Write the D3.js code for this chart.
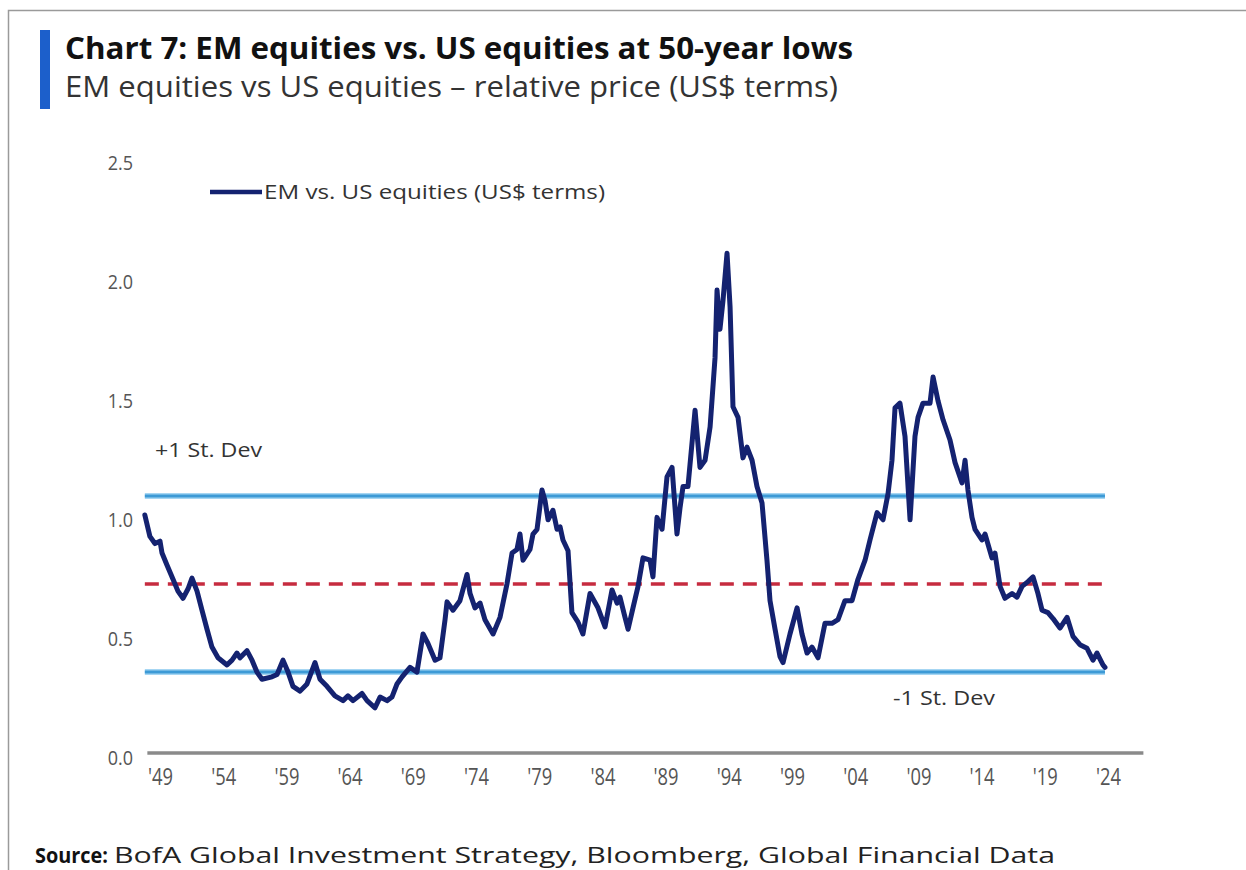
<!DOCTYPE html>
<html>
<head>
<meta charset="utf-8">
<script src="https://cdn.jsdelivr.net/npm/d3@7"></script>
<style>
  html, body { margin: 0; padding: 0; background: #fff; }
  svg { display: block; }
</style>
</head>
<body>
<svg id="chart" width="1246" height="870"></svg>
<script>
// EM vs. US equities relative price (US$ terms), decimal years
const years = [
  1947.8, 1948.2, 1948.6, 1949.0, 1949.16, 1949.55, 1950.03, 1950.42, 1950.82, 1951.22,
  1951.53, 1951.93, 1952.32, 1952.72, 1953.11, 1953.59, 1954.3, 1954.7, 1955.09, 1955.33,
  1955.88, 1956.28, 1956.67, 1957.07, 1957.86, 1958.26, 1958.73, 1959.13, 1959.52, 1960.08,
  1960.63, 1961.26, 1961.66, 1962.21, 1962.84, 1963.48, 1963.87, 1964.27, 1964.98, 1965.38,
  1966.01, 1966.41, 1966.96, 1967.35, 1967.75, 1968.15, 1968.78, 1969.33, 1969.81, 1970.2,
  1970.76, 1971.15, 1971.55, 1971.71, 1972.18, 1972.73, 1973.29, 1973.53, 1973.92, 1974.32,
  1974.71, 1975.35, 1975.9, 1976.45, 1976.85, 1977.24, 1977.48, 1977.72, 1978.27, 1978.51,
  1978.83, 1979.22, 1979.46, 1979.7, 1980.09, 1980.41, 1980.65, 1980.88, 1981.28, 1981.59,
  1982.07, 1982.46, 1983.02, 1983.65, 1984.21, 1984.76, 1985.16, 1985.39, 1985.79, 1986.03,
  1986.42, 1986.82, 1987.21, 1987.77, 1988.0, 1988.32, 1988.72, 1989.11, 1989.51, 1989.9,
  1990.14, 1990.38, 1990.77, 1991.33, 1991.72, 1992.12, 1992.52, 1992.91, 1993.07, 1993.3,
  1993.54, 1993.86, 1994.1, 1994.33, 1994.73, 1995.12, 1995.44, 1995.84, 1996.23, 1996.63,
  1997.02, 1997.26, 1997.66, 1998.05, 1998.29, 1998.84, 1999.4, 1999.79, 2000.19, 2000.58,
  2001.06, 2001.61, 2002.16, 2002.64, 2003.19, 2003.75, 2004.22, 2004.78, 2005.17, 2005.73,
  2006.2, 2006.6, 2006.91, 2007.15, 2007.54, 2007.94, 2008.34, 2008.73, 2008.97, 2009.36,
  2009.92, 2010.16, 2010.55, 2010.95, 2011.5, 2011.9, 2012.45, 2012.69, 2012.92, 2013.24,
  2013.48, 2014.03, 2014.27, 2014.82, 2015.06, 2015.46, 2015.85, 2016.41, 2016.8, 2017.2,
  2017.67, 2018.07, 2018.46, 2018.78, 2019.25, 2019.65, 2020.2, 2020.76, 2021.23, 2021.78,
  2022.34, 2022.81, 2023.13, 2023.6, 2023.76
];
const emVsUs = [
  1.00, 0.91, 0.88, 0.89, 0.84, 0.79, 0.73, 0.68, 0.65, 0.69,
  0.735, 0.68, 0.60, 0.52, 0.445, 0.40, 0.37, 0.39, 0.42, 0.40,
  0.43, 0.39, 0.34, 0.31, 0.32, 0.33, 0.39, 0.34, 0.28, 0.26,
  0.29, 0.38, 0.31, 0.28, 0.24, 0.22, 0.24, 0.22, 0.25, 0.22,
  0.19, 0.235, 0.22, 0.235, 0.29, 0.32, 0.36, 0.34, 0.50, 0.46,
  0.39, 0.40, 0.56, 0.635, 0.60, 0.64, 0.75, 0.67, 0.61, 0.63,
  0.56, 0.50, 0.57, 0.71, 0.84, 0.855, 0.92, 0.81, 0.855, 0.92,
  0.94, 1.105, 1.06, 0.98, 1.02, 0.94, 0.95, 0.895, 0.85, 0.59,
  0.55, 0.50, 0.67, 0.61, 0.53, 0.685, 0.63, 0.655, 0.57, 0.52,
  0.61, 0.70, 0.82, 0.81, 0.74, 0.99, 0.94, 1.16, 1.20, 0.92,
  1.03, 1.12, 1.12, 1.44, 1.20, 1.23, 1.37, 1.66, 1.945, 1.78,
  1.90, 2.10, 1.875, 1.455, 1.41, 1.24, 1.285, 1.23, 1.12, 1.05,
  0.81, 0.64, 0.52, 0.405, 0.38, 0.50, 0.61, 0.50, 0.42, 0.445,
  0.40, 0.545, 0.545, 0.56, 0.64, 0.64, 0.73, 0.81, 0.895, 1.01,
  0.98, 1.09, 1.23, 1.45, 1.47, 1.33, 0.98, 1.33, 1.41, 1.47,
  1.47, 1.58, 1.48, 1.40, 1.315, 1.22, 1.135, 1.23, 1.105, 0.99,
  0.94, 0.895, 0.92, 0.82, 0.84, 0.70, 0.65, 0.67, 0.655, 0.70,
  0.72, 0.74, 0.67, 0.60, 0.59, 0.565, 0.525, 0.57, 0.49, 0.455,
  0.44, 0.39, 0.42, 0.37, 0.36
];

// Reference levels: long-run mean and +/- one standard deviation
const meanLevel = 0.71;
const plusOneSd = 1.08;
const minusOneSd = 0.34;

const yTicks = [0, 0.5, 1.0, 1.5, 2.0, 2.5];
const xTicks = [1949, 1954, 1959, 1964, 1969, 1974, 1979, 1984, 1989, 1994, 1999, 2004, 2009, 2014, 2019, 2024];
const xAxisSpan = [1948.0, 2026.8];

const titleText = "Chart 7: EM equities vs. US equities at 50-year lows";
const subtitleText = "EM equities vs US equities \u2013 relative price (US$ terms)";
const legendText = "EM vs. US equities (US$ terms)";
const plusLabel = "+1 St. Dev";
const minusLabel = "-1 St. Dev";
const sourceLabel = "Source:";
const sourceText = "BofA Global Investment Strategy, Bloomberg, Global Financial Data";

const svg = d3.select("#chart");
const font = "'Open Sans', 'Noto Sans', sans-serif";

const x = d3.scaleLinear().domain([1949, 2024]).range([160, 1108]);
const y = d3.scaleLinear().domain([0, 2.5]).range([753, 158]);

// Outer panel frame
svg.append("path")
  .attr("d", "M8.5,870 L8.5,10.5 L1246,10.5")
  .attr("fill", "none").attr("stroke", "#9a9a9a").attr("stroke-width", 1.5);

// Header: accent bar, title, subtitle
svg.append("rect").attr("x", 40).attr("y", 30).attr("width", 10).attr("height", 79).attr("fill", "#1c5fcb");
svg.append("text").attr("x", 65).attr("y", 59)
  .attr("font-family", font).attr("font-weight", 700).attr("font-size", 30)
  .attr("fill", "#111").attr("textLength", 788).attr("lengthAdjust", "spacingAndGlyphs")
  .text(titleText);
svg.append("text").attr("x", 65).attr("y", 97)
  .attr("font-family", font).attr("font-weight", 400).attr("font-size", 29)
  .attr("fill", "#333").attr("textLength", 773).attr("lengthAdjust", "spacingAndGlyphs")
  .text(subtitleText);

// Y axis labels
const yAxis = svg.append("g").attr("transform", "translate(133,0)")
  .call(d3.axisLeft(y).tickValues(yTicks).tickFormat(d3.format(".1f")).tickSize(0).tickPadding(0));
yAxis.select(".domain").remove();
yAxis.selectAll("text")
  .attr("font-family", font).attr("font-size", 20).attr("fill", "#555")
  .attr("dy", "0.55em").attr("transform", "scale(0.9,1)");

// X axis baseline and labels
svg.append("line")
  .attr("x1", x(xAxisSpan[0])).attr("x2", x(xAxisSpan[1]))
  .attr("y1", y(0)).attr("y2", y(0))
  .attr("stroke", "#8a8a8a").attr("stroke-width", 3.5);
const xAxis = svg.append("g").attr("transform", `translate(0,${y(0) + 16})`)
  .call(d3.axisBottom(x).tickValues(xTicks).tickFormat(d => "'" + String(d).slice(2)).tickSize(0).tickPadding(0));
xAxis.select(".domain").remove();
xAxis.selectAll("text")
  .attr("font-family", font).attr("font-size", 23).attr("fill", "#555")
  .attr("textLength", 25).attr("lengthAdjust", "spacingAndGlyphs");

// Standard deviation bands and mean
const levelSpan = [years[0], years[years.length - 1]];
[plusOneSd, minusOneSd].forEach(v => {
  svg.append("line")
    .attr("x1", x(levelSpan[0])).attr("x2", x(levelSpan[1]))
    .attr("y1", y(v)).attr("y2", y(v))
    .attr("stroke", "#a6d6f3").attr("stroke-width", 6);
  svg.append("line")
    .attr("x1", x(levelSpan[0])).attr("x2", x(levelSpan[1]))
    .attr("y1", y(v)).attr("y2", y(v))
    .attr("stroke", "#3d9ad6").attr("stroke-width", 3);
});
svg.append("line")
  .attr("x1", x(levelSpan[0])).attr("x2", x(levelSpan[1]))
  .attr("y1", y(meanLevel)).attr("y2", y(meanLevel))
  .attr("stroke", "#c62b3f").attr("stroke-width", 3.5)
  .attr("stroke-dasharray", "14,9");

// Series line
const line = d3.line().x((d, i) => x(years[i])).y(d => y(d)).curve(d3.curveLinear);
svg.append("path")
  .datum(emVsUs)
  .attr("d", line)
  .attr("fill", "none").attr("stroke", "#142270").attr("stroke-width", 5)
  .attr("stroke-linejoin", "round").attr("stroke-linecap", "round");

// Legend
svg.append("line").attr("x1", 210).attr("x2", 262).attr("y1", 192).attr("y2", 192)
  .attr("stroke", "#142270").attr("stroke-width", 4.5);
svg.append("text").attr("x", 264).attr("y", 199)
  .attr("font-family", font).attr("font-size", 20).attr("fill", "#333")
  .attr("textLength", 341).attr("lengthAdjust", "spacingAndGlyphs")
  .text(legendText);

// Band annotations
svg.append("text").attr("x", 155).attr("y", 457)
  .attr("font-family", font).attr("font-size", 20).attr("fill", "#333")
  .attr("textLength", 107).attr("lengthAdjust", "spacingAndGlyphs")
  .text(plusLabel);
svg.append("text").attr("x", 893).attr("y", 705)
  .attr("font-family", font).attr("font-size", 20).attr("fill", "#333")
  .attr("textLength", 102).attr("lengthAdjust", "spacingAndGlyphs")
  .text(minusLabel);

// Source line
svg.append("text").attr("x", 35).attr("y", 863)
  .attr("font-family", font).attr("font-weight", 700).attr("font-size", 21).attr("fill", "#111")
  .attr("textLength", 73).attr("lengthAdjust", "spacingAndGlyphs")
  .text(sourceLabel);
svg.append("text").attr("x", 114).attr("y", 863)
  .attr("font-family", font).attr("font-size", 21).attr("fill", "#222")
  .attr("textLength", 941).attr("lengthAdjust", "spacingAndGlyphs")
  .text(sourceText);
</script>
</body>
</html>
